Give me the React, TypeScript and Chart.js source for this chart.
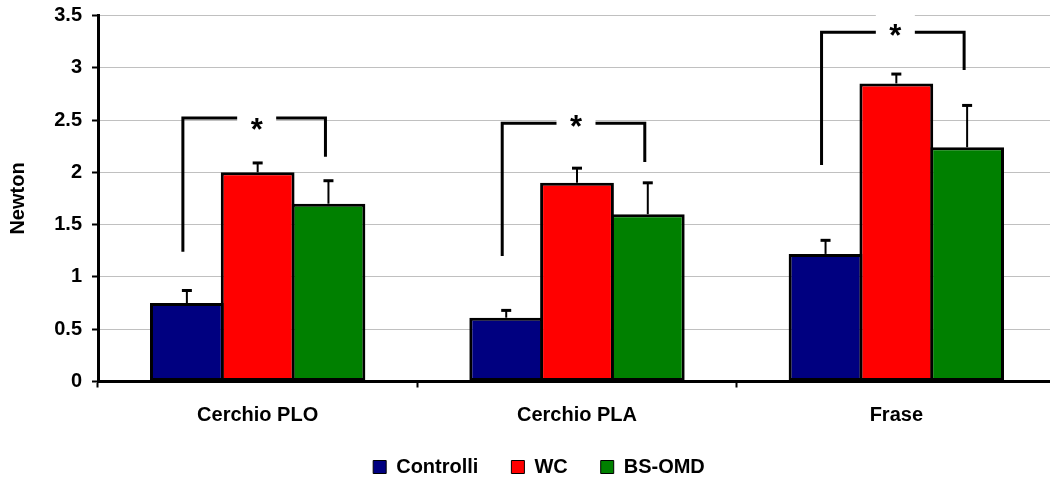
import React, { useEffect, useRef } from 'react';
import { Chart, registerables } from 'chart.js';

Chart.register(...registerables);

const categories = ['Cerchio PLO', 'Cerchio PLA', 'Frase'];
const seriesNames = ['Controlli', 'WC', 'BS-OMD'];
const controlli = [0.75, 0.61, 1.22];
const wc = [2.0, 1.9, 2.85];
const bsOmd = [1.7, 1.6, 2.24];
const errControlli = [0.12, 0.07, 0.13];
const errWc = [0.09, 0.14, 0.09];
const errBsOmd = [0.22, 0.3, 0.4];
// significance brackets (values on the Newton axis)
const bracketTop = [2.52, 2.47, 3.34];
const bracketLeftEnd = [1.24, 1.2, 2.07];
const bracketRightEnd = [2.15, 2.1, 2.98];
const starLevel = [2.46, 2.495, 3.365];
const starText = '*';
const yMin = 0;
const yMax = 3.5;
const yStep = 0.5;
const axisTitle = 'Newton';

const colors = ['#000080', '#FF0000', '#008000'];
const FONT = "'Liberation Sans', Arial, sans-serif";

const errorBarPlugin = {
  id: 'errorBars',
  afterDatasetsDraw(chart: any) {
    const ctx = chart.ctx;
    const y = chart.scales.y;
    const errs = [errControlli, errWc, errBsOmd];
    ctx.save();
    ctx.strokeStyle = '#000';
    chart.data.datasets.forEach((ds: any, i: number) => {
      const meta = chart.getDatasetMeta(i);
      meta.data.forEach((el: any, j: number) => {
        const v = ds.data[j] as number;
        const top = y.getPixelForValue(v + errs[i][j]);
        const x = el.x;
        ctx.lineWidth = 2;
        ctx.beginPath();
        ctx.moveTo(x, el.y);
        ctx.lineTo(x, top);
        ctx.stroke();
        ctx.lineWidth = 3;
        ctx.beginPath();
        ctx.moveTo(x - 5, top);
        ctx.lineTo(x + 5, top);
        ctx.stroke();
      });
    });
    ctx.restore();
  },
};

const bracketPlugin = {
  id: 'brackets',
  afterDatasetsDraw(chart: any) {
    const ctx = chart.ctx;
    const y = chart.scales.y;
    const m0 = chart.getDatasetMeta(0);
    const m1 = chart.getDatasetMeta(1);
    const m2 = chart.getDatasetMeta(2);
    ctx.save();
    categories.forEach((_c, j) => {
      const xL = m0.data[j].x - 4;
      const xR = m2.data[j].x - 3;
      const xM = m1.data[j].x - 1;
      const yT = y.getPixelForValue(bracketTop[j]);
      const yL = y.getPixelForValue(bracketLeftEnd[j]);
      const yR = y.getPixelForValue(bracketRightEnd[j]);
      ctx.strokeStyle = '#000';
      ctx.lineWidth = 3;
      ctx.lineJoin = 'miter';
      ctx.beginPath();
      ctx.moveTo(xL, yL);
      ctx.lineTo(xL, yT);
      ctx.lineTo(xR, yT);
      ctx.lineTo(xR, yR);
      ctx.stroke();
      // white label box behind the star
      ctx.fillStyle = '#fff';
      ctx.fillRect(xM - 19.5, yT - 18, 39, 32);
      const yc = y.getPixelForValue(starLevel[j]);
      ctx.font = `bold 31px ${FONT}`;
      ctx.fillStyle = '#000';
      ctx.textAlign = 'center';
      ctx.textBaseline = 'alphabetic';
      const m = ctx.measureText(starText);
      const asc = m.actualBoundingBoxAscent;
      const desc = m.actualBoundingBoxDescent;
      ctx.fillText(starText, xM, yc + (asc - desc) / 2);
    });
    ctx.restore();
  },
};

export default function App() {
  const ref = useRef<HTMLCanvasElement | null>(null);
  useEffect(() => {
    if (!ref.current) return;
    const seriesValues = [controlli, wc, bsOmd];
    const chart = new Chart(ref.current, {
      type: 'bar',
      data: {
        labels: categories,
        datasets: seriesNames.map((name, i) => ({
          label: name,
          data: seriesValues[i],
          backgroundColor: colors[i],
          borderColor: '#000',
          borderWidth: 3,
          borderSkipped: false,
          categoryPercentage: 0.665,
          barPercentage: 1.0424,
        })),
      },
      options: {
        responsive: false,
        animation: false,
        devicePixelRatio: 1,
        layout: { padding: { left: 22, right: 14, top: 15.5, bottom: 0 } },
        plugins: {
          tooltip: { enabled: false },
          legend: {
            position: 'bottom',
            labels: {
              boxWidth: 13,
              boxHeight: 13,
              padding: 33,
              color: '#000',
              font: { family: FONT, size: 20, weight: 'bold' },
              generateLabels: (c: any) =>
                Chart.defaults.plugins.legend.labels
                  .generateLabels(c)
                  .map((l: any) => ({ ...l, lineWidth: 1 })),
            },
          },
        },
        scales: {
          x: {
            afterFit: (s: any) => {
              s.height = 42.5;
            },
            grid: {
              display: true,
              drawOnChartArea: false,
              drawTicks: true,
              tickLength: 6,
              tickColor: '#000',
              tickWidth: 2,
              offset: true,
            },
            border: { display: true, color: '#000', width: 3 },
            ticks: {
              color: '#000',
              padding: 18,
              maxRotation: 0,
              autoSkip: false,
              font: { family: FONT, size: 20, weight: 'bold', lineHeight: 1 },
            },
          },
          y: {
            min: yMin,
            max: yMax,
            afterFit: (s: any) => {
              s.width = 76;
              s.paddingTop = 0;
              s.paddingBottom = 0;
            },
            grid: {
              color: '#c0c0c0',
              lineWidth: 1,
              drawTicks: true,
              tickLength: 6,
              tickColor: '#000',
              tickWidth: 2,
            },
            border: { display: true, color: '#000', width: 3 },
            ticks: {
              stepSize: yStep,
              color: '#000',
              padding: 10,
              callback: (v: any) => String(Number(v)),
              font: { family: FONT, size: 20, weight: 'bold' },
            },
            title: {
              display: true,
              text: axisTitle,
              color: '#000',
              padding: { top: -16, bottom: 0 },
              font: { family: FONT, size: 20, weight: 'bold' },
            },
          },
        },
      },
      plugins: [errorBarPlugin, bracketPlugin],
    } as any);
    return () => chart.destroy();
  }, []);
  return (
    <div
      style={{
        position: 'fixed',
        left: 0,
        top: 0,
        width: 1050,
        height: 479,
        overflow: 'hidden',
        background: '#fff',
      }}
    >
      <canvas ref={ref} width={1070} height={487} style={{ display: 'block' }} />
    </div>
  );
}
